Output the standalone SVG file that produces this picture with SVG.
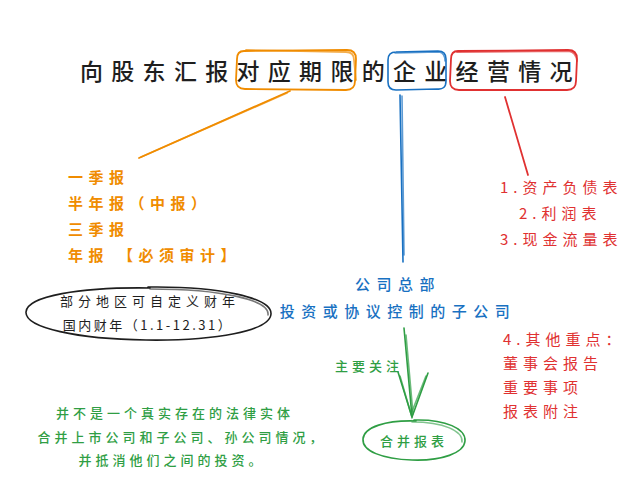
<svg xmlns="http://www.w3.org/2000/svg" width="639" height="482" viewBox="0 0 639 482">
<style>
text{font-family:"Noto Sans CJK SC","Noto Sans",sans-serif;}
.t{font-size:23px;fill:#1e1e1e;letter-spacing:8.3px;font-weight:500;}
.o{fill:#f08c00;font-size:15px;letter-spacing:5.5px;font-weight:bold;}
.r{fill:#e03131;font-size:15px;letter-spacing:5px;}
.b{fill:#1971c2;font-size:15px;letter-spacing:6.5px;font-weight:500;}
.g{fill:#2f9e44;font-size:13px;letter-spacing:4px;font-weight:500;}
.k{fill:#1e1e1e;font-size:13px;letter-spacing:5px;}
.so{fill:none;stroke:#f08c00;stroke-width:1.8;stroke-linecap:round;}
.sb{fill:none;stroke:#1971c2;stroke-width:1.6;stroke-linecap:round;}
.sr{fill:none;stroke:#e03131;stroke-width:1.8;stroke-linecap:round;}
.sg{fill:none;stroke:#2f9e44;stroke-width:1.6;stroke-linecap:round;}
.sk{fill:none;stroke:#1e1e1e;stroke-width:1.6;stroke-linecap:round;}
</style>
<rect width="639" height="482" fill="#ffffff"/>
<g id="title">
<text class="t" x="80" y="80">向股东汇报对应期限的企业经营情况</text>
</g>
<g id="box-period">
<path class="so" d="M244,51 L347,50 Q356,50 356,59 L355,81 Q355,90 346,90 L245,89 Q236,89 236,80 L237,59 Q237,51 244,51 Z"/>
<path class="so" d="M246,50 L346,52 Q354,52 354,60 L356,80" opacity="0.7"/>
</g>
<g id="box-company">
<path class="sb" d="M396,52 L438,51 Q446,51 446,59 L446,81 Q446,90 437,89 L396,90 Q388,90 388,82 L388,60 Q388,52 396,52 Z"/>
<path class="sb" d="M395,53 L439,52 Q445,53 445,61" opacity="0.7"/>
</g>
<g id="box-operation">
<path class="sr" d="M458,51 L568,50 Q577,50 577,59 L576,81 Q576,90 567,90 L459,90 Q450,90 450,81 L451,59 Q451,51 458,51 Z"/>
<path class="sr" d="M457,52 L569,51 Q576,52 577,61" opacity="0.7"/>
</g>
<g id="connectors">
<path class="so" d="M290,91 L139,158"/>
<path class="so" d="M287,93 L141,157" opacity="0.7"/>
<path class="sb" d="M400,95 L403,262"/>
<path class="sb" d="M402,96 L404,255" opacity="0.7"/>
<path class="sr" d="M505,97 L528,175"/>
<path class="sg" d="M404,328 L412,417"/>
<path class="sg" d="M406,335 L413,414" opacity="0.7"/>
<path class="sg" d="M398,372 L412,417 L428,373"/>
<path class="sg" d="M400,376 L411,414 L426,376" opacity="0.7"/>
</g>
<g id="periods">
<text class="o" x="68" y="183">一季报</text>
<text class="o" x="68" y="209">半年报（中报）</text>
<text class="o" x="68" y="235">三季报</text>
<text class="o" x="68" y="261">年报 【必须审计】</text>
</g>
<g id="fiscal-year">
<path class="sk" d="M148,287 C220,286 272,298 271,314 C270,331 215,341 146,340 C78,339 25,328 26,312 C27,296 80,287 150,288"/>
<path class="sk" d="M150,289 C222,289 270,300 268,315" opacity="0.6"/>
<text class="k" x="150" y="306" text-anchor="middle">部分地区可自定义财年</text>
<text class="k" x="148" y="330" text-anchor="middle" style="letter-spacing:2.5px">国内财年（1.1-12.31）</text>
</g>
<g id="statements">
<text class="r" x="500" y="193">1.资产负债表</text>
<text class="r" x="519" y="219">2.利润表</text>
<text class="r" x="500" y="245">3.现金流量表</text>
</g>
<g id="scope">
<text class="b" x="398" y="290" text-anchor="middle">公司总部</text>
<text class="b" x="398" y="317" text-anchor="middle">投资或协议控制的子公司</text>
</g>
<g id="other">
<text class="r" x="503" y="345">4.其他重点：</text>
<text class="r" x="503" y="369">董事会报告</text>
<text class="r" x="503" y="393">重要事项</text>
<text class="r" x="503" y="417">报表附注</text>
</g>
<g id="focus-label">
<text class="g" x="335" y="371">主要关注</text>
</g>
<g id="consolidated">
<path class="sg" d="M414,420 C446,419 466,429 465,441 C464,453 442,461 412,460 C382,459 362,451 363,439 C364,427 386,420 416,421"/>
<path class="sg" d="M412,422 C444,422 463,431 462,442" opacity="0.6"/>
<text class="g" x="414" y="446" text-anchor="middle">合并报表</text>
</g>
<g id="note">
<text class="g" x="175" y="418" text-anchor="middle">并不是一个真实存在的法律实体</text>
<text class="g" x="182" y="442" text-anchor="middle">合并上市公司和子公司、孙公司情况，</text>
<text class="g" x="172" y="465" text-anchor="middle">并抵消他们之间的投资。</text>
</g>
</svg>
